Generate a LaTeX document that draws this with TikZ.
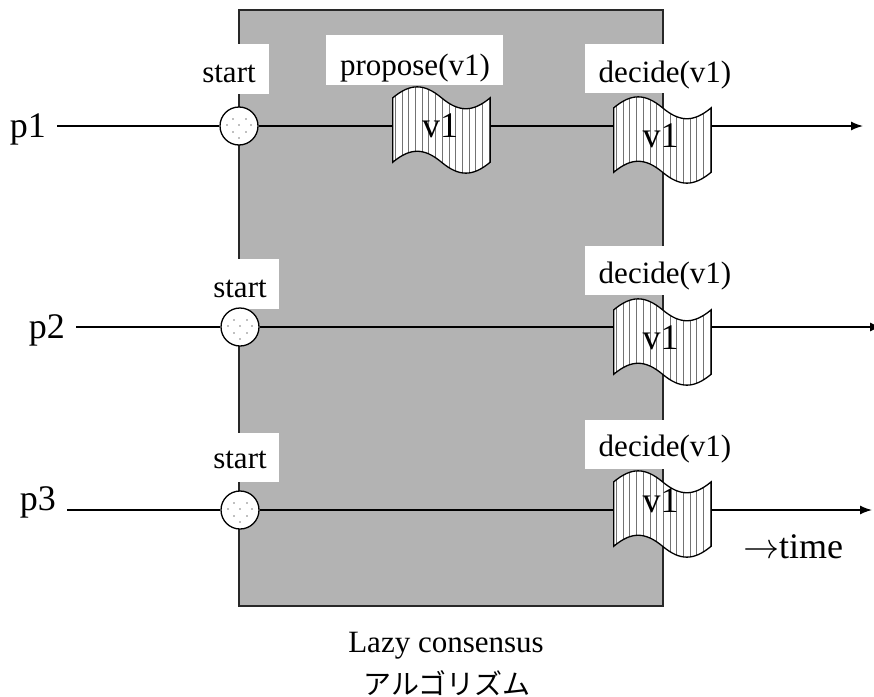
\documentclass[tikz,border=0pt]{standalone}
\usepackage{fontspec}
\usepackage{unicode-math}
\setmainfont{Liberation Serif}
\setmathfont{Latin Modern Math}
\newfontfamily\cjkfont{Noto Sans CJK JP}
\usetikzlibrary{arrows.meta,patterns.meta,calc}
\definecolor{algfill}{RGB}{179,179,179}
\definecolor{algedge}{RGB}{40,40,40}
\tikzset{
  lbl/.style={font=\fontsize{31}{36}\selectfont, inner sep=0pt, anchor=base},
  plbl/.style={font=\fontsize{36}{40}\selectfont, inner xsep=11pt, inner ysep=0pt, anchor=base east},
  labelbg/.style={fill=white},
  algbox/.style={fill=algfill, draw=algedge, line width=1.6pt},
  proc/.style={line width=1.4pt},
  procarrow/.style={proc, -{Latex[length=12pt,width=9pt]}},
  startpt/.style={circle, draw, line width=1.3pt, fill=white, minimum size=38pt, inner sep=0pt,
    path picture={
      \foreach \dx/\dy in {-6/-7, 7/-7, -12/-1, 0/-1, 12/-1, -6/6, 7/6, 0/12}
        \fill[black!50] ($(path picture bounding box.center)+(\dx,\dy)$) circle (0.8pt);
    }},
  flagbox/.style={rectangle, minimum width=97pt, minimum height=64pt, inner sep=0pt},
  flagtext/.style={font=\fontsize{36}{40}\selectfont, inner sep=0pt, anchor=base},
  flagline/.style={line width=1.3pt, preaction={fill=white},
    pattern={Lines[angle=90,distance=6.7pt,line width=0.7pt]}, pattern color=black!55},
}
% wavy, hatched decision/proposal flag drawn around a flagbox node
\newcommand\wavyflag[1]{%
  \draw[flagline] (#1.north west)
    .. controls +(17.5,-14.6) and +(-17.5,-14.6) .. (#1.north)
    .. controls +(17.5,14.6) and +(-17.5,14.6) .. (#1.north east)
    -- (#1.south east)
    .. controls +(-17.5,14.6) and +(17.5,14.6) .. (#1.south)
    .. controls +(-17.5,-14.6) and +(17.5,-14.6) .. (#1.south west)
    -- cycle;}
\begin{document}
\begin{tikzpicture}[x=1pt,y=-1pt]
\useasboundingbox (0,0) rectangle (874,696);

% algorithm region
\draw[algbox] (239,10) rectangle (663,606);

% label backgrounds
\fill[labelbg] (200,44) rectangle (269,94);
\fill[labelbg] (236,259) rectangle (279,309);
\fill[labelbg] (236,433) rectangle (279,482);
\fill[labelbg] (326,35) rectangle (503,85);
\fill[labelbg] (585,44) rectangle (740,93);
\fill[labelbg] (585,246) rectangle (740,295);
\fill[labelbg] (585,420) rectangle (740,469);

% labels
\node[lbl] (st1) at (229,82) {start};
\node[lbl] (st2) at (240,297) {start};
\node[lbl] (st3) at (240,468) {start};
\node[lbl] (prop) at (415,75) {propose(v1)};
\node[lbl] (dec1) at (665,82) {decide(v1)};
\node[lbl] (dec2) at (665,283) {decide(v1)};
\node[lbl] (dec3) at (665,456) {decide(v1)};
\node[flagtext] (time) at (793,558) {$\rightarrow$time};
\node[lbl] (alg) at (446,652) {Lazy consensus};
\node[font=\cjkfont\fontsize{28}{32}\selectfont, inner sep=0pt] (algjp) at (447,683) {アルゴリズム};

% processes
\node[plbl] (p1) at (57,137) {p1};
\node[plbl] (p2) at (76,338) {p2};
\node[plbl] (p3) at (67,510) {p3};

% start points
\node[startpt] (s1) at (239,126) {};
\node[startpt] (s2) at (240,327) {};
\node[startpt] (s3) at (240,510) {};

% flags
\node[flagbox] (f1) at (441.5,130) {};
\node[flagbox] (d1) at (662.5,140) {};
\node[flagbox] (d2) at (662.5,342) {};
\node[flagbox] (d3) at (662.5,514) {};
\wavyflag{f1}
\wavyflag{d1}
\wavyflag{d2}
\wavyflag{d3}
\node[flagtext] (f1t) at (440,137) {v1};
\node[flagtext] (d1t) at (660.5,147) {v1};
\node[flagtext] (d2t) at (660.5,349) {v1};
\node[flagtext] (d3t) at (660.5,512) {v1};

% time lines
\coordinate (e1) at (863,126);
\coordinate (e2) at (882,327);
\coordinate (e3) at (872,510);

\draw[proc] (p1.east |- s1) -- (s1);
\draw[proc] (s1) -- (s1 -| f1.west);
\draw[proc] (f1.east |- s1) -- (s1 -| d1.west);
\draw[procarrow] (d1.east |- s1) -- (e1);

\draw[proc] (p2.east |- s2) -- (s2);
\draw[proc] (s2) -- (s2 -| d2.west);
\draw[procarrow] (d2.east |- s2) -- (e2);

\draw[proc] (p3.east |- s3) -- (s3);
\draw[proc] (s3) -- (s3 -| d3.west);
\draw[procarrow] (d3.east |- s3) -- (e3);
\end{tikzpicture}
\end{document}
